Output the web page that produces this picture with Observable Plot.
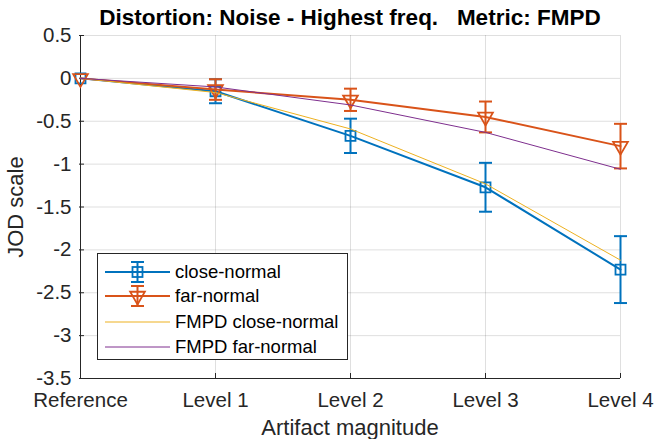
<!DOCTYPE html>
<html>
<head>
<meta charset="utf-8">
<script src="https://cdn.jsdelivr.net/npm/d3@7"></script>
<script src="https://cdn.jsdelivr.net/npm/@observablehq/plot@0.6"></script>
<style>
  html, body { margin: 0; padding: 0; background: #fff; overflow: hidden; }
  #wrap { position: relative; width: 654px; height: 439px; font-family: "Liberation Sans", Arial, sans-serif; color: #262626; }
  #wrap svg { font-family: "Liberation Sans", Arial, sans-serif; }
  .abs { position: absolute; white-space: pre; line-height: 1; }
  #title { left: 350px; top: 7px; transform: translateX(-50%); font-weight: bold; font-size: 22.5px; color: #000; }
  #xlabel { left: 350px; top: 417px; transform: translateX(-50%); font-size: 22px; }
  #ylabel { left: 16px; top: 207px; transform: translate(-50%, -50%) rotate(-90deg); font-size: 22px; }
  #legend { position: absolute; left: 97px; top: 253px; width: 249px; height: 105px; border: 1px solid #262626; background: #fff; }
  .row { position: absolute; left: 0; height: 24px; width: 249px; }
  .row svg { position: absolute; left: 0; top: 0; }
  .row span { position: absolute; left: 77px; top: 3px; font-size: 18.5px; line-height: 1; color: #000; white-space: pre; }
</style>
</head>
<body>
<div id="wrap">
  <div id="chart"></div>
  <div id="title" class="abs"></div>
  <div id="xlabel" class="abs"></div>
  <div id="ylabel" class="abs"></div>
  <div id="legend"></div>
</div>
<script>
// ---- data ----
const titleText = "Distortion: Noise - Highest freq.   Metric: FMPD";
const xLabel = "Artifact magnitude";
const yLabel = "JOD scale";
const categories = ["Reference", "Level 1", "Level 2", "Level 3", "Level 4"];
const yTicks = [-3.5, -3, -2.5, -2, -1.5, -1, -0.5, 0, 0.5];
const closeNormal = [0, -0.15, -0.67, -1.27, -2.23];
const closeErr = [0, 0.14, 0.20, 0.285, 0.39];
const farNormal = [0, -0.13, -0.25, -0.45, -0.79];
const farErr = [0, 0.12, 0.13, 0.18, 0.26];
const fmpdClose = [0, -0.165, -0.59, -1.23, -2.12];
const fmpdFar = [0, -0.10, -0.31, -0.63, -1.06];
const seriesNames = ["close-normal", "far-normal", "FMPD close-normal", "FMPD far-normal"];
const colors = ["#0072BD", "#D95319", "#EDB120", "#7E2F8E"];

// ---- build tables ----
const mk = (vals, errs) => categories.map((c, i) => ({x: c, y: vals[i], e: errs ? errs[i] : 0}));
const closeData = mk(closeNormal, closeErr);
const farData = mk(farNormal, farErr);
const fmpdCloseData = mk(fmpdClose);
const fmpdFarData = mk(fmpdFar);
const caps = (data) => data.filter(d => d.e > 0).flatMap(d => [{x: d.x, y: d.y - d.e}, {x: d.x, y: d.y + d.e}]);

// custom symbols
const capSym = {draw(ctx, size) { const r = Math.sqrt(size / Math.PI); ctx.moveTo(-r, 0); ctx.lineTo(r, 0); }};
const squareSym = {draw(ctx, size) { const r = Math.sqrt(size / Math.PI); ctx.moveTo(-r, -r); ctx.lineTo(r, -r); ctx.lineTo(r, r); ctx.lineTo(-r, r); ctx.closePath(); }};
const triDownSym = {draw(ctx, size) { const R = Math.sqrt(size / Math.PI); ctx.moveTo(0, R); ctx.lineTo(R * 0.866, -R / 2); ctx.lineTo(-R * 0.866, -R / 2); ctx.closePath(); }};

function errMarks(data, color, symbol, r) {
  return [
    Plot.ruleX(data.filter(d => d.e > 0), {x: "x", y1: d => d.y - d.e, y2: d => d.y + d.e, stroke: color, strokeWidth: 2}),
    Plot.dot(caps(data), {x: "x", y: "y", symbol: capSym, r: 6.5, stroke: color, fill: "none", strokeWidth: 2}),
    Plot.line(data, {x: "x", y: "y", stroke: color, strokeWidth: 2}),
    Plot.dot(data, {x: "x", y: "y", symbol: symbol, r: r, stroke: color, fill: "none", strokeWidth: 1.8})
  ];
}

const chart = Plot.plot({
  width: 654,
  height: 439,
  marginLeft: 79,
  marginRight: 34,
  marginTop: 35,
  marginBottom: 61,
  style: {fontSize: "20.5px", fontFamily: "Liberation Sans, Arial, sans-serif", background: "#fff", overflow: "visible"},
  x: {type: "point", domain: categories, padding: 0},
  y: {domain: [-3.5, 0.5]},
  marks: [
    Plot.gridY(yTicks, {stroke: "#262626", strokeOpacity: 0.15}),
    Plot.gridX(categories, {stroke: "#262626", strokeOpacity: 0.15}),
    Plot.ruleX([categories[0]], {stroke: "#262626"}),
    Plot.ruleY([-3.5], {stroke: "#262626"}),
    Plot.axisY(yTicks, {tickSize: -5, tickPadding: 13, tickFormat: d => String(d), label: null, color: "#262626", fontSize: 20.5}),
    Plot.axisX(categories, {tickSize: -5, tickPadding: 19, label: null, color: "#262626", fontSize: 20.5}),
    ...errMarks(closeData, colors[0], squareSym, 5),
    ...errMarks(farData, colors[1], triDownSym, 8.5),
    Plot.line(fmpdCloseData, {x: "x", y: "y", stroke: colors[2], strokeWidth: 1}),
    Plot.line(fmpdFarData, {x: "x", y: "y", stroke: colors[3], strokeWidth: 1})
  ]
});
document.getElementById("chart").appendChild(chart);

document.getElementById("title").textContent = titleText;
document.getElementById("xlabel").textContent = xLabel;
document.getElementById("ylabel").textContent = yLabel;

// ---- legend ----
const legend = document.getElementById("legend");
const rowTops = [6, 30, 56, 81];
const ns = "http://www.w3.org/2000/svg";
seriesNames.forEach((name, i) => {
  const row = document.createElement("div");
  row.className = "row";
  row.style.top = rowTops[i] + "px";
  const svg = document.createElementNS(ns, "svg");
  svg.setAttribute("width", 76); svg.setAttribute("height", 24);
  const cy = 12, cx = 39.5, c = colors[i];
  let html = `<line x1="7" x2="72" y1="${cy}" y2="${cy}" stroke="${c}" stroke-width="${i < 2 ? 2 : 1}"/>`;
  if (i < 2) {
    html += `<line x1="${cx}" x2="${cx}" y1="${cy - 10}" y2="${cy + 10}" stroke="${c}" stroke-width="2"/>`;
    html += `<line x1="${cx - 6.5}" x2="${cx + 6.5}" y1="${cy - 10}" y2="${cy - 10}" stroke="${c}" stroke-width="2"/>`;
    html += `<line x1="${cx - 6.5}" x2="${cx + 6.5}" y1="${cy + 10}" y2="${cy + 10}" stroke="${c}" stroke-width="2"/>`;
    if (i === 0) html += `<rect x="${cx - 5}" y="${cy - 5}" width="10" height="10" fill="none" stroke="${c}" stroke-width="1.8"/>`;
    else { const R = 8.5; html += `<path d="M${cx},${cy + R}L${cx + R * 0.866},${cy - R / 2}L${cx - R * 0.866},${cy - R / 2}Z" fill="none" stroke="${c}" stroke-width="1.8"/>`; }
  }
  svg.innerHTML = html;
  row.appendChild(svg);
  const t = document.createElement("span");
  t.textContent = name;
  row.appendChild(t);
  legend.appendChild(row);
});
</script>
</body>
</html>
